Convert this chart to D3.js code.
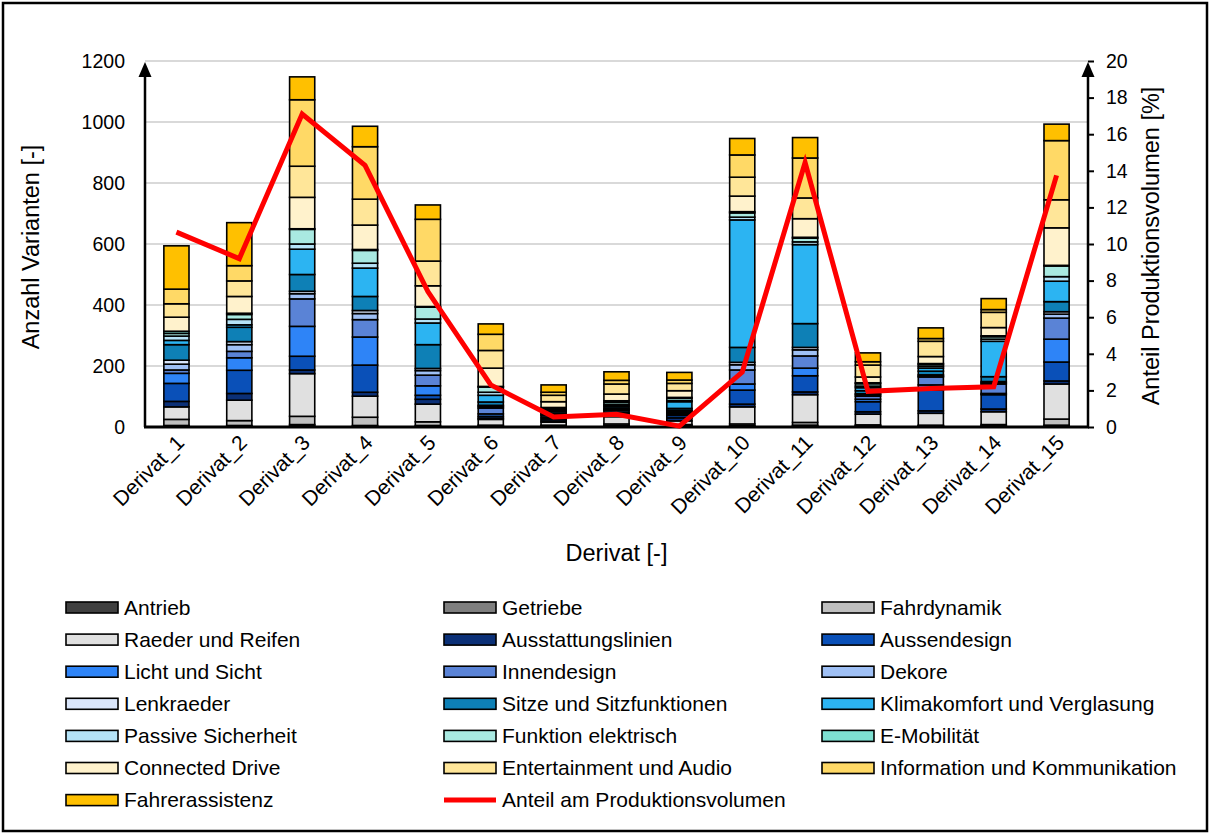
<!DOCTYPE html>
<html>
<head>
<meta charset="utf-8">
<script src="https://cdn.jsdelivr.net/npm/d3@7"></script>
<style>
  body { margin: 0; background: #fff; }
  svg { display: block; font-family: Arial, "Liberation Sans", sans-serif; }
</style>
</head>
<body>
<svg id="chart" width="1210" height="834"></svg>
<script>
// Derivatives on the x axis
const categories = ["Derivat_1", "Derivat_2", "Derivat_3", "Derivat_4", "Derivat_5",
  "Derivat_6", "Derivat_7", "Derivat_8", "Derivat_9", "Derivat_10",
  "Derivat_11", "Derivat_12", "Derivat_13", "Derivat_14", "Derivat_15"];

// Number of variants per feature group (stacked bottom to top)
const antrieb         = [2, 2, 3, 2, 2, 1, 1, 2, 2, 2, 3, 2, 2, 2, 3];
const getriebe        = [3, 3, 5, 3, 3, 1, 2, 2, 2, 2, 3, 2, 2, 2, 3];
const fahrdynamik     = [20, 16, 27, 27, 12, 4, 3, 6, 4, 6, 9, 3, 2, 4, 20];
const raeder          = [41, 67, 140, 69, 58, 19, 10, 24, 12, 56, 91, 35, 39, 42, 115];
const ausstattung     = [18, 22, 12, 13, 16, 4, 4, 4, 10, 9, 9, 8, 8, 9, 10];
const aussendesign    = [59, 76, 45, 89, 13, 6, 6, 6, 8, 46, 53, 33, 68, 47, 62];
const lichtSicht      = [33, 41, 98, 92, 31, 8, 5, 4, 5, 20, 25, 8, 17, 4, 75];
const innendesign     = [11, 21, 90, 57, 35, 19, 6, 6, 5, 46, 40, 10, 26, 31, 69];
const dekore          = [19, 22, 17, 20, 15, 5, 4, 3, 4, 17, 20, 5, 3, 4, 13];
const lenkraeder      = [13, 10, 8, 10, 7, 4, 3, 3, 3, 8, 8, 3, 4, 4, 8];
const sitze           = [51, 47, 55, 46, 78, 11, 6, 6, 6, 49, 78, 10, 12, 16, 33];
const klimakomfort    = [14, 8, 83, 93, 71, 22, 5, 4, 22, 418, 259, 10, 10, 116, 67];
const passiveSich     = [14, 18, 17, 16, 13, 10, 3, 4, 3, 9, 9, 5, 6, 7, 15];
const funktionElek    = [9, 16, 48, 42, 39, 17, 4, 7, 8, 14, 12, 8, 6, 8, 35];
const eMobilitaet     = [7, 4, 2, 3, 2, 2, 2, 5, 3, 4, 3, 3, 3, 3, 2];
const connectedDrive  = [46, 55, 103, 80, 68, 60, 19, 22, 22, 51, 61, 19, 23, 27, 123];
const entertainment   = [44, 51, 102, 85, 81, 58, 21, 33, 24, 62, 68, 39, 50, 50, 92];
const infoKomm        = [48, 50, 218, 172, 137, 53, 10, 12, 11, 73, 131, 11, 9, 9, 194];
const fahrerassistenz = [142, 141, 75, 67, 47, 34, 24, 28, 25, 54, 67, 29, 35, 36, 54];

// Share of production volume in percent (secondary axis)
const anteil = [10.65, 9.2, 17.1, 14.3, 7.4, 2.3, 0.55, 0.7, 0.05, 3.0, 14.45, 1.95, 2.1, 2.2, 13.75];

// Axis ticks
const leftTicks = [0, 200, 400, 600, 800, 1000, 1200];
const rightTicks = [0, 2, 4, 6, 8, 10, 12, 14, 16, 18, 20];

const series = [
  { name: "Antrieb", values: antrieb, color: "#404040" },
  { name: "Getriebe", values: getriebe, color: "#7f7f7f" },
  { name: "Fahrdynamik", values: fahrdynamik, color: "#bfbfbf" },
  { name: "Raeder und Reifen", values: raeder, color: "#e0e0e0" },
  { name: "Ausstattungslinien", values: ausstattung, color: "#0b3077" },
  { name: "Aussendesign", values: aussendesign, color: "#0a50b8" },
  { name: "Licht und Sicht", values: lichtSicht, color: "#2e84f7" },
  { name: "Innendesign", values: innendesign, color: "#5a83d6" },
  { name: "Dekore", values: dekore, color: "#9fc0f5" },
  { name: "Lenkraeder", values: lenkraeder, color: "#dae6fb" },
  { name: "Sitze und Sitzfunktionen", values: sitze, color: "#0e80b6" },
  { name: "Klimakomfort und Verglasung", values: klimakomfort, color: "#2cb4f2" },
  { name: "Passive Sicherheit", values: passiveSich, color: "#b5e3f7" },
  { name: "Funktion elektrisch", values: funktionElek, color: "#a9e9e1" },
  { name: "E-Mobilität", values: eMobilitaet, color: "#7ee0d2" },
  { name: "Connected Drive", values: connectedDrive, color: "#fff2cc" },
  { name: "Entertainment und Audio", values: entertainment, color: "#ffe699" },
  { name: "Information und Kommunikation", values: infoKomm, color: "#ffd966" },
  { name: "Fahrerassistenz", values: fahrerassistenz, color: "#ffc000" }
];
const lineName = "Anteil am Produktionsvolumen";

const svg = d3.select("#chart");
const W = 1210, H = 834;
const plot = { left: 145, right: 1088, top: 61, bottom: 427 };

// outer frame
svg.append("rect").attr("x", 3).attr("y", 3).attr("width", W - 6).attr("height", H - 6)
  .attr("fill", "#fff").attr("stroke", "#000").attr("stroke-width", 2.5);

const x = d3.scaleBand().domain(categories).range([plot.left, plot.right])
  .paddingInner(0.6).paddingOuter(0.3);
const y = d3.scaleLinear().domain([0, 1200]).range([plot.bottom, plot.top]);
const y2 = d3.scaleLinear().domain([0, 20]).range([plot.bottom, plot.top]);

// gridlines
svg.append("g").selectAll("line").data(leftTicks.filter(t => t > 0)).join("line")
  .attr("x1", plot.left).attr("x2", plot.right)
  .attr("y1", d => y(d)).attr("y2", d => y(d))
  .attr("stroke", "#d9d9d9").attr("stroke-width", 2);

// stacked bars
const rows = categories.map((c, i) => {
  const r = { cat: c };
  series.forEach(s => { r[s.name] = s.values[i]; });
  return r;
});
const stacked = d3.stack().keys(series.map(s => s.name))(rows);
const barsG = svg.append("g");
stacked.forEach((layer, k) => {
  barsG.append("g").attr("fill", series[k].color)
    .selectAll("rect").data(layer).join("rect")
    .attr("x", d => x(d.data.cat))
    .attr("width", x.bandwidth())
    .attr("y", d => y(d[1]))
    .attr("height", d => y(d[0]) - y(d[1]))
    .attr("stroke", "#000").attr("stroke-width", 1.6);
});

// axes
const tickFont = 19.5;
const leftAxis = svg.append("g").attr("transform", `translate(${plot.left},0)`)
  .call(d3.axisLeft(y).tickValues(leftTicks).tickFormat(d3.format("d")).tickSize(0).tickPadding(20));
const rightAxis = svg.append("g").attr("transform", `translate(${plot.right},0)`)
  .call(d3.axisRight(y2).tickValues(rightTicks).tickFormat(d3.format("d")).tickSize(6).tickPadding(12));
[leftAxis, rightAxis].forEach(g => {
  g.select(".domain").remove();
  g.selectAll("text").attr("font-size", tickFont).attr("fill", "#000")
    .attr("font-family", "Arial, 'Liberation Sans', sans-serif");
  g.selectAll("line").attr("stroke", "#000").attr("stroke-width", 2);
});

// axis lines with arrow heads
[plot.left, plot.right].forEach(ax => {
  svg.append("line").attr("x1", ax).attr("x2", ax)
    .attr("y1", plot.bottom).attr("y2", plot.top + 6)
    .attr("stroke", "#000").attr("stroke-width", 2.5);
  svg.append("path")
    .attr("d", `M${ax},${plot.top + 1} L${ax - 6.5},${plot.top + 16} L${ax + 6.5},${plot.top + 16} Z`)
    .attr("fill", "#000");
});

// x axis
const bottomAxis = svg.append("g").attr("transform", `translate(0,${plot.bottom})`)
  .call(d3.axisBottom(x).tickSize(0).tickPadding(0));
bottomAxis.select(".domain").remove();
svg.append("line").attr("x1", plot.left - 1).attr("x2", plot.right + 1)
  .attr("y1", plot.bottom).attr("y2", plot.bottom)
  .attr("stroke", "#000").attr("stroke-width", 3);
bottomAxis.selectAll("text")
  .attr("font-size", 21).attr("fill", "#000")
  .attr("font-family", "Arial, 'Liberation Sans', sans-serif")
  .attr("text-anchor", "end")
  .attr("dy", 0)
  .attr("transform", "translate(9,17) rotate(-45)");

// production share line
const line = d3.line()
  .x((d, i) => x(categories[i]) + x.bandwidth() / 2)
  .y(d => y2(d));
svg.append("path").datum(anteil)
  .attr("d", line)
  .attr("fill", "none").attr("stroke", "#ff0000").attr("stroke-width", 5)
  .attr("stroke-linejoin", "miter");

// axis titles
const titleFont = 23.5;
svg.append("text").attr("transform", `translate(39,${(plot.top + plot.bottom) / 2 + 3}) rotate(-90)`)
  .attr("text-anchor", "middle").attr("font-size", titleFont).text("Anzahl Varianten [-]");
svg.append("text").attr("transform", `translate(1159,${(plot.top + plot.bottom) / 2 + 2}) rotate(-90)`)
  .attr("text-anchor", "middle").attr("font-size", titleFont).text("Anteil Produktionsvolumen [%]");
svg.append("text").attr("x", (plot.left + plot.right) / 2).attr("y", 561)
  .attr("text-anchor", "middle").attr("font-size", titleFont).text("Derivat [-]");

// legend: three columns, row-major
const legendCols = [66, 444, 822];
const legendRow0 = 607.5, legendStep = 32.1;
const legendItems = series.map(s => ({ name: s.name, color: s.color, type: "bar" }))
  .concat([{ name: lineName, color: "#ff0000", type: "line" }]);
const lg = svg.append("g");
legendItems.forEach((it, i) => {
  const cx = legendCols[i % 3];
  const cy = legendRow0 + Math.floor(i / 3) * legendStep;
  if (it.type === "bar") {
    lg.append("rect").attr("x", cx).attr("y", cy - 5.5).attr("width", 52).attr("height", 11)
      .attr("fill", it.color).attr("stroke", "#000").attr("stroke-width", 1.6);
  } else {
    lg.append("line").attr("x1", cx).attr("x2", cx + 52).attr("y1", cy).attr("y2", cy)
      .attr("stroke", it.color).attr("stroke-width", 5);
  }
  lg.append("text").attr("x", cx + 58).attr("y", cy).attr("dy", "0.35em")
    .attr("font-size", 21).attr("fill", "#000").text(it.name);
});
</script>
</body>
</html>
